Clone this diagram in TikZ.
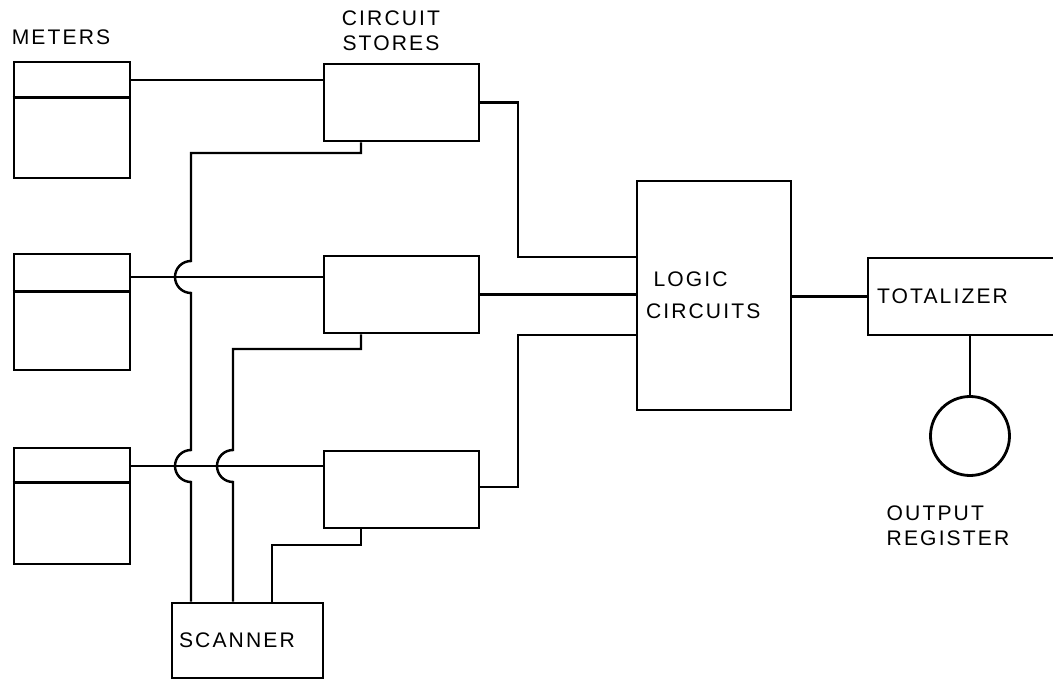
\documentclass[tikz,border=0pt]{standalone}
\usepackage{fontspec}
\setmainfont{Liberation Sans}[LetterSpace=10]
\tikzset{
  meterbox/.style={rectangle, draw, line width=1.6pt, minimum width=2.32cm, minimum height=2.32cm, inner sep=0pt},
  storebox/.style={rectangle, draw, line width=1.6pt, minimum width=3.1cm, minimum height=1.54cm, inner sep=0pt},
  logicbox/.style={rectangle, draw, line width=1.6pt, minimum height=4.58cm, text width=2.72cm, inner xsep=0.18cm, align=left, font=\fontsize{12}{18}\selectfont},
  totbox/.style={rectangle, draw, line width=1.6pt, minimum height=1.54cm, text width=3.48cm, inner xsep=0.18cm, align=left},
  scanbox/.style={rectangle, draw, line width=1.6pt, minimum height=1.5cm, text width=2.74cm, inner xsep=0.14cm, align=left},
  regnode/.style={circle, draw, line width=1.6pt, minimum size=1.58cm, inner sep=0pt},
  lbl/.style={align=center},
  wire/.style={line width=1.4pt},
}

\begin{document}
\begin{tikzpicture}[font=\fontsize{12}{14}\selectfont]
  \useasboundingbox (0,0) rectangle (21.06,13.62);
  % ── meters (left column) ─────────────────────────────────────────
  \node[lbl] (meterlbl) at (1.22,12.88) {METERS};
  \node[meterbox] (m1) at (1.44,11.22) {};
  \node[meterbox] (m2) at (1.44, 7.38) {};
  \node[meterbox] (m3) at (1.44, 3.50) {};
  \draw[wire] ([yshift=-0.74cm]m1.north west) -- ([yshift=-0.74cm]m1.north east);
  \draw[wire] ([yshift=-0.78cm]m2.north west) -- ([yshift=-0.78cm]m2.north east);
  \draw[wire] ([yshift=-0.72cm]m3.north west) -- ([yshift=-0.72cm]m3.north east);
  % ── circuit stores (middle column) ───────────────────────────────
  \node[lbl] (storelbl) at (7.82,13.00) {CIRCUIT\\STORES};
  \node[storebox] (cs1) at (8.03,11.57) {};
  \node[storebox] (cs2) at (8.03, 7.73) {};
  \node[storebox] (cs3) at (8.03, 3.83) {};
  % ── logic, totalizer, register ───────────────────────────────────
  \node[logicbox] (logic) at (14.28,7.71) {\hspace*{0.15cm}LOGIC\\CIRCUITS};
  \node[totbox] (tot) at (19.28,7.69) {TOTALIZER};
  \node[regnode] (reg) at (19.40,4.90) {};
  \node[lbl, align=left] (reglbl) at (18.96,3.11) {OUTPUT\\REGISTER};
  % ── scanner ──────────────────────────────────────────────────────
  \node[scanbox] (scan) at (4.95,0.81) {SCANNER};
  % ── meter-to-store lines ─────────────────────────────────────────
  \draw[wire] ([yshift=0.80cm]m1.east) -- ([yshift=0.80cm]m1.east -| cs1.west);
  \draw[wire] ([yshift=0.70cm]m2.east) -- ([yshift=0.70cm]m2.east -| cs2.west);
  \draw[wire] ([yshift=0.80cm]m3.east) -- ([yshift=0.80cm]m3.east -| cs3.west);
  % ── store-to-logic lines ─────────────────────────────────────────
  \coordinate (j1) at (10.36,8.48);
  \coordinate (j3) at (10.36,6.92);
  \draw[wire] (cs1.east) -| (j1) -- (j1 -| logic.west);
  \draw[wire] (cs2.east) -- (cs2.east -| logic.west);
  \draw[wire] ([yshift=0.05cm]cs3.east) -| (j3) -- (j3 -| logic.west);
  % ── logic to totalizer to register ───────────────────────────────
  \draw[wire] (tot.west -| logic.east) -- (tot.west);
  \draw[wire] (reg.north) -- (reg.north |- tot.south);
  % ── scanner lines (hop over the meter lines) ─────────────────────
  \draw[wire] ([xshift=-1.13cm]scan.north) -- (3.82,3.98)
    arc[start angle=270, end angle=90, radius=0.32] -- (3.82,7.76)
    arc[start angle=270, end angle=90, radius=0.32] -- (3.82,10.56)
    -| ([xshift=-0.81cm]cs1.south);
  \draw[wire] ([xshift=-0.29cm]scan.north) -- (4.66,3.98)
    arc[start angle=270, end angle=90, radius=0.32] -- (4.66,6.64)
    -| ([xshift=-0.81cm]cs2.south);
  \draw[wire] ([xshift=0.49cm]scan.north) -- (5.44,2.72)
    -| ([xshift=-0.81cm]cs3.south);
\end{tikzpicture}
\end{document}
